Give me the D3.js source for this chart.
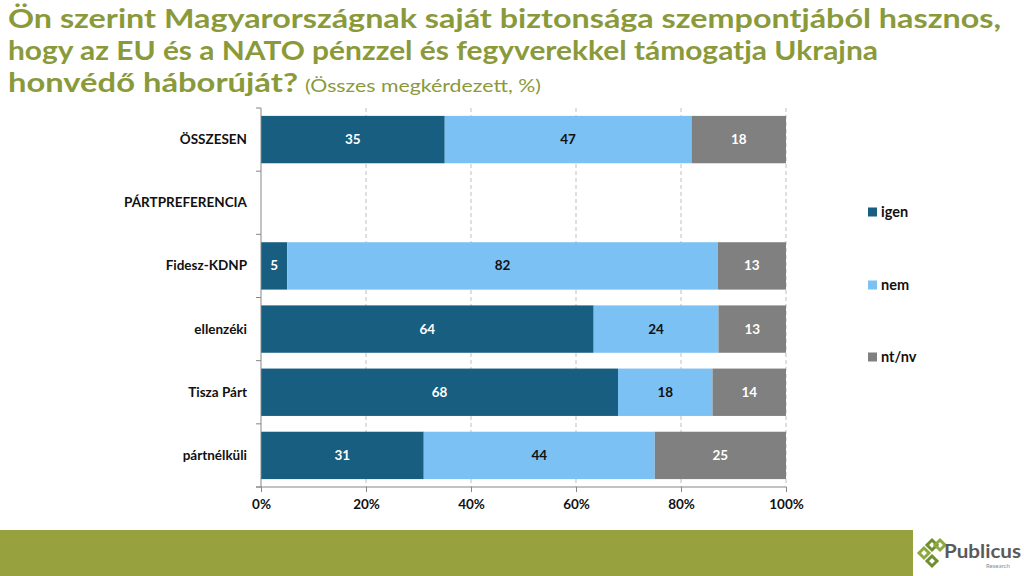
<!DOCTYPE html>
<html><head><meta charset="utf-8">
<script src="https://cdn.jsdelivr.net/npm/d3@7"></script>
<style>
body{margin:0;background:#fff;}
svg{display:block;font-family:Lato,'Open Sans',sans-serif;}
</style></head>
<body><svg id="c" width="1024" height="576"></svg>
<script>
const categories = ["ÖSSZESEN","PÁRTPREFERENCIA","Fidesz-KDNP","ellenzéki","Tisza Párt","pártnélküli"];
const seriesNames = ["igen","nem","nt/nv"];
const igen  = [35, null, 5, 64, 68, 31];
const nem   = [47, null, 82, 24, 18, 44];
const ntnv  = [18, null, 13, 13, 14, 25];
const xTicks = [0, 0.2, 0.4, 0.6, 0.8, 1];
const colors = ["#175E80", "#7CC1F3", "#808080"];
const labelColors = ["#fff", "#111", "#fff"];

const svg = d3.select("#c");

// title
const green = "#8A9A3B";
const t = svg.append("g").attr("fill", green).attr("font-weight", "bold");
t.append("text").attr("x", 8).attr("y", 28).attr("font-size", 26)
  .attr("textLength", 993).attr("lengthAdjust", "spacingAndGlyphs")
  .text("Ön szerint Magyarországnak saját biztonsága szempontjából hasznos,");
t.append("text").attr("x", 8).attr("y", 60).attr("font-size", 26)
  .attr("textLength", 870).attr("lengthAdjust", "spacingAndGlyphs")
  .text("hogy az EU és a NATO pénzzel és fegyverekkel támogatja Ukrajna");
t.append("text").attr("x", 8).attr("y", 92).attr("font-size", 26)
  .attr("textLength", 290).attr("lengthAdjust", "spacingAndGlyphs")
  .text("honvédő háborúját?");
svg.append("text").attr("x", 305).attr("y", 92).attr("font-size", 18).attr("fill", green)
  .attr("textLength", 236).attr("lengthAdjust", "spacingAndGlyphs")
  .text("(Összes megkérdezett, %)");

// chart
const x = d3.scaleLinear().domain([0, 1]).range([261, 786]);
const y = d3.scaleBand().domain(categories).range([108, 487]).paddingInner(0.25).paddingOuter(0.125);

// gridlines
svg.append("g").selectAll("line").data(xTicks.filter(d => d > 0)).join("line")
  .attr("x1", d => x(d)).attr("x2", d => x(d)).attr("y1", 108).attr("y2", 487)
  .attr("stroke", "#BFBFBF").attr("stroke-width", 1).attr("stroke-dasharray", "4,3");

const rows = categories.map((c, i) => {
  const vals = [igen[i], nem[i], ntnv[i]];
  if (vals[0] == null) return {c, segs: []};
  const sum = d3.sum(vals);
  let acc = 0;
  const segs = vals.map((v, k) => { const s = {k, v, x0: acc / sum, x1: (acc + v) / sum}; acc += v; return s; });
  return {c, segs};
});

const g = svg.append("g");
rows.forEach(r => {
  const rg = g.append("g");
  rg.selectAll("rect").data(r.segs).join("rect")
    .attr("x", d => x(d.x0)).attr("width", d => x(d.x1) - x(d.x0))
    .attr("y", y(r.c)).attr("height", y.bandwidth())
    .attr("fill", d => colors[d.k]);
  rg.selectAll("text").data(r.segs).join("text")
    .attr("x", d => (x(d.x0) + x(d.x1)) / 2).attr("y", y(r.c) + y.bandwidth() / 2 + 4.5)
    .attr("text-anchor", "middle").attr("font-size", 13.5).attr("font-weight", "bold")
    .attr("fill", d => labelColors[d.k]).text(d => d.v);
});

// left axis
const axisColor = "#868686";
const la = svg.append("g");
la.append("line").attr("x1", 261).attr("x2", 261).attr("y1", 108).attr("y2", 487).attr("stroke", axisColor);
const bounds = categories.map((c, i) => 108 + i * y.step()).concat([487]);
la.selectAll("line.t").data(bounds).join("line").attr("class", "t")
  .attr("x1", 256).attr("x2", 261).attr("y1", d => d).attr("y2", d => d).attr("stroke", axisColor);
la.selectAll("text").data(categories).join("text")
  .attr("x", 247).attr("y", d => y(d) + y.bandwidth() / 2 + 4.5)
  .attr("text-anchor", "end").attr("font-size", 13.5).attr("font-weight", "bold").attr("fill", "#111")
  .text(d => d);

// bottom axis
const ba = svg.append("g").attr("transform", "translate(0,487)")
  .call(d3.axisBottom(x).tickValues(xTicks).tickFormat(d3.format(".0%")).tickSizeOuter(0).tickSize(5));
ba.select(".domain").remove();
ba.append("line").attr("x1", 256).attr("x2", 786).attr("stroke", axisColor);
ba.selectAll(".tick line").attr("stroke", axisColor);
ba.selectAll(".tick text").attr("font-size", 13.5).attr("font-weight", "bold").attr("fill", "#111")
  .attr("font-family", "Lato,'Open Sans',sans-serif").attr("dy", "1.05em");

// legend
const lg = svg.append("g");
const legY = [212, 285, 357];
seriesNames.forEach((s, i) => {
  lg.append("rect").attr("x", 868).attr("y", legY[i] - 4.5).attr("width", 9).attr("height", 9).attr("fill", colors[i]);
  lg.append("text").attr("x", 881).attr("y", legY[i] + 5).attr("font-size", 14.5).attr("font-weight", "bold")
    .attr("fill", "#111").text(s);
});

// footer band + logo
svg.append("rect").attr("x", 0).attr("y", 530).attr("width", 913).attr("height", 46).attr("fill", "#97A23E");
const logo = svg.append("g");
logo.selectAll("path").data([[932,545],[924,553],[932,561],[940,545]]).join("path")
  .attr("d", d => `M${d[0]},${d[1]-5} L${d[0]+5},${d[1]} L${d[0]},${d[1]+5} L${d[0]-5},${d[1]} Z`)
  .attr("fill", "none").attr("stroke", (d,i) => i % 2 ? "#8DA83E" : "#6E8F2E").attr("stroke-width", 3);
logo.append("text").attr("x", 944).attr("y", 558).attr("font-size", 19).attr("font-weight", "bold")
  .attr("fill", "#5A5A5A").attr("textLength", 77).attr("lengthAdjust", "spacingAndGlyphs").text("Publicus");
logo.append("text").attr("x", 986).attr("y", 568).attr("font-size", 6).attr("fill", "#8A8A8A").text("Research");
</script></body></html>
